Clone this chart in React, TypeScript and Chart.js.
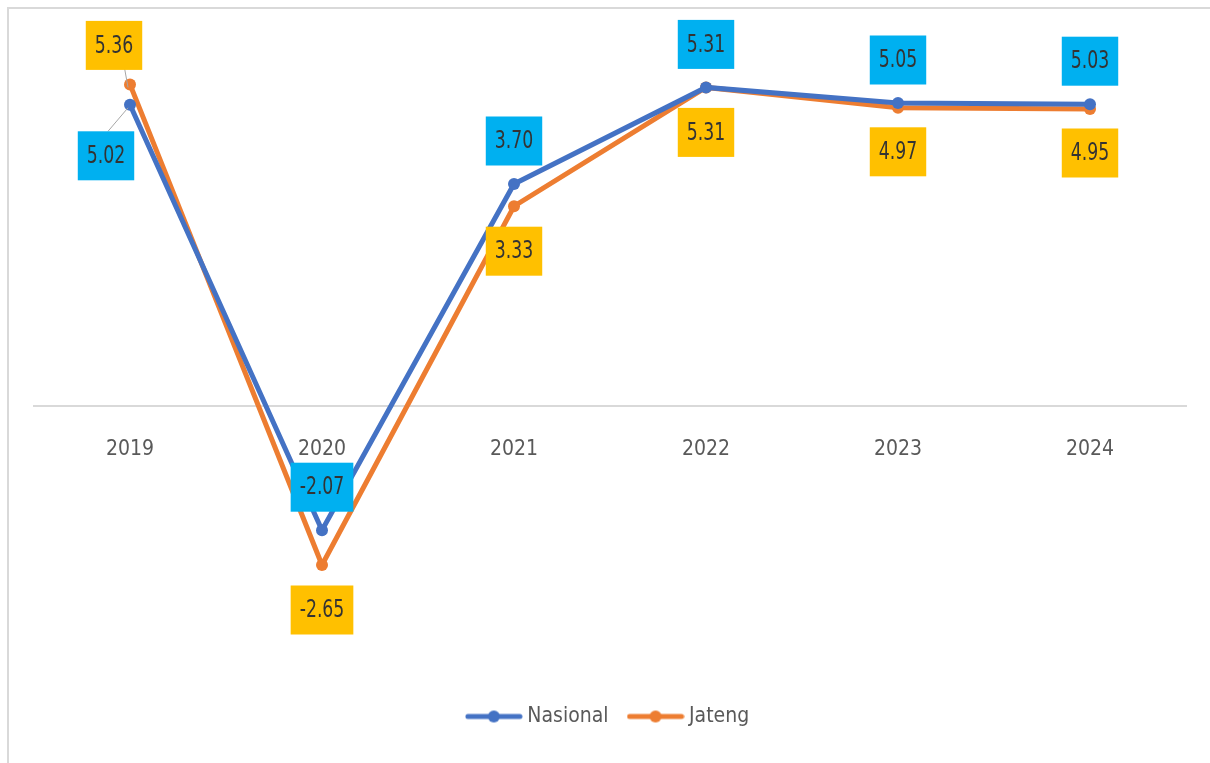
import React, { useEffect, useRef } from "react";
import { Chart, registerables } from "chart.js";

Chart.register(...registerables);

const YEARS = ["2019", "2020", "2021", "2022", "2023", "2024"];
const NASIONAL = [5.02, -2.07, 3.7, 5.31, 5.05, 5.03];
const JATENG = [5.36, -2.65, 3.33, 5.31, 4.97, 4.95];
const NASIONAL_LABELS = ["5.02", "-2.07", "3.70", "5.31", "5.05", "5.03"];
const JATENG_LABELS = ["5.36", "-2.65", "3.33", "5.31", "4.97", "4.95"];

// label box placement relative to the point (dx, dy in px)
const NASIONAL_LABEL_OFFSETS = [[-24, 51], [0, -43], [0, -43], [0, -43], [0, -43], [0, -43]];
const JATENG_LABEL_OFFSETS = [[-16, -39], [0, 45], [0, 45], [0, 45], [0, 44], [0, 44]];

const FONT = '"Liberation Sans Narrow", "DejaVu Sans Condensed", "Liberation Sans", sans-serif';
const BLUE = "#4472c4";
const ORANGE = "#ed7d31";
const BLUE_BOX = "#00b0f0";
const GOLD_BOX = "#ffc000";
const SQUEEZE = 0.8;

const labelSets = [
  { texts: NASIONAL_LABELS, offsets: NASIONAL_LABEL_OFFSETS, fill: BLUE_BOX },
  { texts: JATENG_LABELS, offsets: JATENG_LABEL_OFFSETS, fill: GOLD_BOX },
];

const boxLabels = {
  id: "boxLabels",
  afterDatasetsDraw(chart: any) {
    const ctx = chart.ctx as CanvasRenderingContext2D;
    ctx.save();
    ctx.font = `24px ${FONT}`;
    ctx.textAlign = "center";
    ctx.textBaseline = "middle";
    labelSets.forEach((set, di) => {
      const meta = chart.getDatasetMeta(di);
      meta.data.forEach((pt: any, i: number) => {
        const [dx, dy] = set.offsets[i];
        const cx = pt.x + dx;
        const cy = pt.y + dy;
        const text = set.texts[i];
        const w = ctx.measureText(text).width * SQUEEZE + 18;
        const h = 49;
        if (Math.abs(dx) > 5) {
          ctx.strokeStyle = "#a6a6a6";
          ctx.lineWidth = 1;
          ctx.beginPath();
          ctx.moveTo(pt.x - 2, pt.y + 3);
          ctx.lineTo(cx + 2, cy - h / 2);
          ctx.stroke();
        }
        ctx.fillStyle = set.fill;
        ctx.fillRect(cx - w / 2, cy - h / 2, w, h);
        ctx.save();
        ctx.translate(cx, cy + 1);
        ctx.scale(SQUEEZE, 1);
        ctx.fillStyle = "#333333";
        ctx.fillText(text, 0, 0);
        ctx.restore();
      });
    });
    ctx.restore();
  },
};

function makeLegendIcon(color: string) {
  const c = document.createElement("canvas");
  c.width = 58;
  c.height = 14;
  const g = c.getContext("2d")!;
  g.strokeStyle = color;
  g.lineWidth = 5;
  g.lineCap = "round";
  g.beginPath();
  g.moveTo(3, 7);
  g.lineTo(55, 7);
  g.stroke();
  g.fillStyle = color;
  g.beginPath();
  g.arc(29, 7, 6, 0, Math.PI * 2);
  g.fill();
  return c;
}

export default function App() {
  const ref = useRef<HTMLCanvasElement>(null);
  useEffect(() => {
    const icons = [makeLegendIcon(BLUE), makeLegendIcon(ORANGE)];
    const chart = new Chart(ref.current!, {
      type: "line",
      data: {
        labels: YEARS,
        datasets: [
          {
            label: "Nasional",
            data: NASIONAL,
            borderColor: BLUE,
            backgroundColor: BLUE,
            borderWidth: 5,
            pointRadius: 6,
            pointBackgroundColor: BLUE,
            pointBorderWidth: 0,
            tension: 0,
          },
          {
            label: "Jateng",
            data: JATENG,
            borderColor: ORANGE,
            backgroundColor: ORANGE,
            borderWidth: 5,
            pointRadius: 6,
            pointBackgroundColor: ORANGE,
            pointBorderWidth: 0,
            tension: 0,
          },
        ],
      },
      options: {
        responsive: false,
        animation: false,
        devicePixelRatio: 1,
        layout: { padding: { left: 34, right: 24, top: 46, bottom: 26 } },
        scales: {
          x: {
            type: "category",
            position: { y: 0 } as any,
            offset: true,
            grid: { display: false, drawTicks: false },
            border: { display: true, color: "#d9d9d9", width: 2 },
            ticks: {
              color: "#595959",
              font: { family: FONT, size: 21 },
              padding: 31,
              maxRotation: 0,
            },
          },
          y: {
            display: false,
            min: -4.6,
            max: 6,
          },
        },
        plugins: {
          legend: {
            position: "bottom",
            labels: {
              usePointStyle: true,
              pointStyleWidth: 46,
              padding: 24,
              color: "#595959",
              font: { family: FONT, size: 21 },
              generateLabels: (ch: any) => {
                const items = Chart.defaults.plugins.legend.labels.generateLabels(ch);
                return items.map((it: any, i: number) => ({ ...it, pointStyle: icons[i] }));
              },
            },
          },
          tooltip: { enabled: false },
        },
      },
      plugins: [boxLabels],
    });
    return () => chart.destroy();
  }, []);
  return (
    <div style={{ position: "fixed", left: 0, top: 0, width: 1210, height: 763, background: "#fff" }}>
      <canvas ref={ref} width={1210} height={763} style={{ position: "absolute", left: 0, top: 0 }} />
      <div
        style={{
          position: "absolute",
          left: 7,
          top: 7,
          right: 0,
          bottom: 0,
          borderTop: "2px solid #d9d9d9",
          borderLeft: "2px solid #d9d9d9",
          pointerEvents: "none",
        }}
      />
    </div>
  );
}
